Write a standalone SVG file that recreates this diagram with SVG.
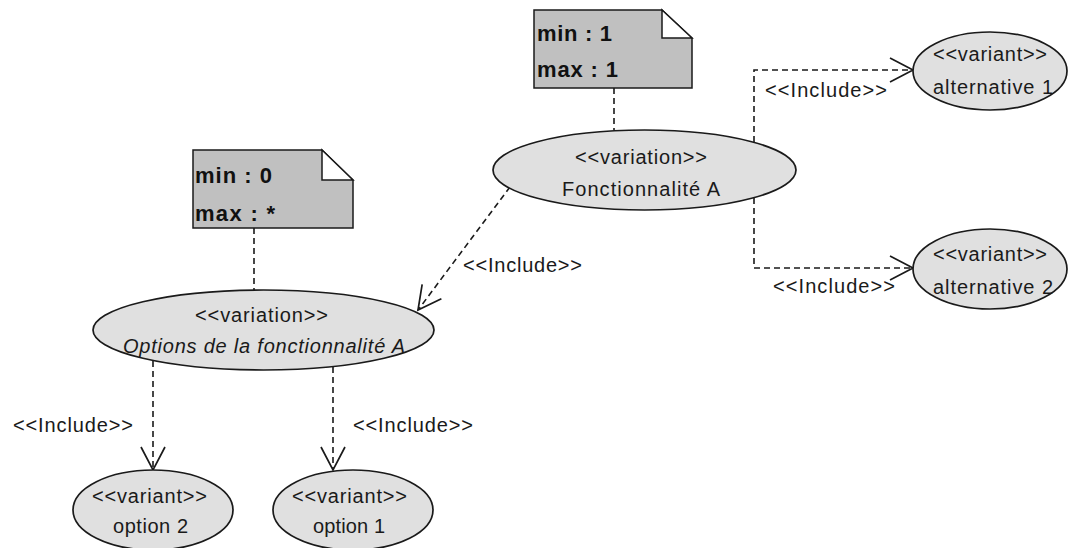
<svg xmlns="http://www.w3.org/2000/svg" width="1072" height="548" viewBox="0 0 1072 548">
<defs>
<style>
.uc{fill:#e0e0e0;stroke:#1a1a1a;stroke-width:1.7}
.note{fill:#c0c0c0;stroke:#1a1a1a;stroke-width:1.5}
.fold{fill:#fff;stroke:#1a1a1a;stroke-width:1.5}
.dash{fill:none;stroke:#1a1a1a;stroke-width:1.6;stroke-dasharray:6,4}
.t{font-family:"Liberation Sans",Arial,sans-serif;font-size:20px;fill:#1a1a1a}
.b{font-family:"Liberation Sans",Arial,sans-serif;font-size:22px;font-weight:bold;fill:#111}
.i{font-style:italic}
</style>
<marker id="open" markerUnits="userSpaceOnUse" markerWidth="40" markerHeight="40" viewBox="-30 -20 40 40" refX="0" refY="0" orient="auto">
<path d="M-23,-12 L0,0 L-23,12" fill="none" stroke="#1a1a1a" stroke-width="1.7" stroke-dasharray="none"/>
</marker>
</defs>
<rect width="1072" height="548" fill="#fff"/>

<g id="connectors">
<path class="dash" d="M614,88 V130"/>
<path class="dash" d="M254,228 V290"/>
<path class="dash" d="M754,142 V70 H913" marker-end="url(#open)"/>
<path class="dash" d="M754,198 V268 H913" marker-end="url(#open)"/>
<path class="dash" d="M510,187 L418,310" marker-end="url(#open)"/>
<path class="dash" d="M153,361 V470" marker-end="url(#open)"/>
<path class="dash" d="M333,367 V470" marker-end="url(#open)"/>
<text class="t" x="765" y="97" textLength="122">&lt;&lt;Include&gt;&gt;</text>
<text class="t" x="773" y="293" textLength="122">&lt;&lt;Include&gt;&gt;</text>
<text class="t" x="463" y="272" textLength="119">&lt;&lt;Include&gt;&gt;</text>
<text class="t" x="13" y="432" textLength="120">&lt;&lt;Include&gt;&gt;</text>
<text class="t" x="353" y="432" textLength="120">&lt;&lt;Include&gt;&gt;</text>
</g>

<g id="note1">
<path class="note" d="M534,10 H662 L692,38 V88 H534 Z"/>
<path class="fold" d="M662,10 V38 H692 Z"/>
<text class="b" x="537" y="41" textLength="75">min : 1</text>
<text class="b" x="537" y="77" textLength="81">max : 1</text>
</g>

<g id="note2">
<path class="note" d="M193,150 H322 L353,180 V228 H193 Z"/>
<path class="fold" d="M322,150 V180 H353 Z"/>
<text class="b" x="195" y="183" textLength="77">min : 0</text>
<text class="b" x="195" y="221" textLength="80">max : *</text>
</g>

<g id="fonctionnalite-a">
<ellipse class="uc" cx="644.5" cy="170" rx="151.5" ry="40"/>
<text class="t" x="575" y="164" textLength="132">&lt;&lt;variation&gt;&gt;</text>
<text class="t" x="562" y="196" textLength="158">Fonctionnalité A</text>
</g>

<g id="options">
<ellipse class="uc" cx="263.5" cy="330" rx="170.5" ry="40"/>
<text class="t" x="195" y="322" textLength="133">&lt;&lt;variation&gt;&gt;</text>
<text class="t i" x="123" y="353" textLength="282">Options de la fonctionnalité A</text>
</g>

<g id="alternative1">
<ellipse class="uc" cx="990" cy="71" rx="77" ry="39"/>
<text class="t" x="933" y="61" textLength="114">&lt;&lt;variant&gt;&gt;</text>
<text class="t" x="933" y="94" textLength="120">alternative 1</text>
</g>

<g id="alternative2">
<ellipse class="uc" cx="990" cy="269" rx="77" ry="40"/>
<text class="t" x="933" y="261" textLength="114">&lt;&lt;variant&gt;&gt;</text>
<text class="t" x="933" y="294" textLength="120">alternative 2</text>
</g>

<g id="option2">
<ellipse class="uc" cx="153" cy="510" rx="80" ry="40"/>
<text class="t" x="92" y="503" textLength="115">&lt;&lt;variant&gt;&gt;</text>
<text class="t" x="113" y="533" textLength="75">option 2</text>
</g>

<g id="option1">
<ellipse class="uc" cx="353" cy="510" rx="80" ry="40"/>
<text class="t" x="292" y="503" textLength="115">&lt;&lt;variant&gt;&gt;</text>
<text class="t" x="313" y="533" textLength="72">option 1</text>
</g>
</svg>
